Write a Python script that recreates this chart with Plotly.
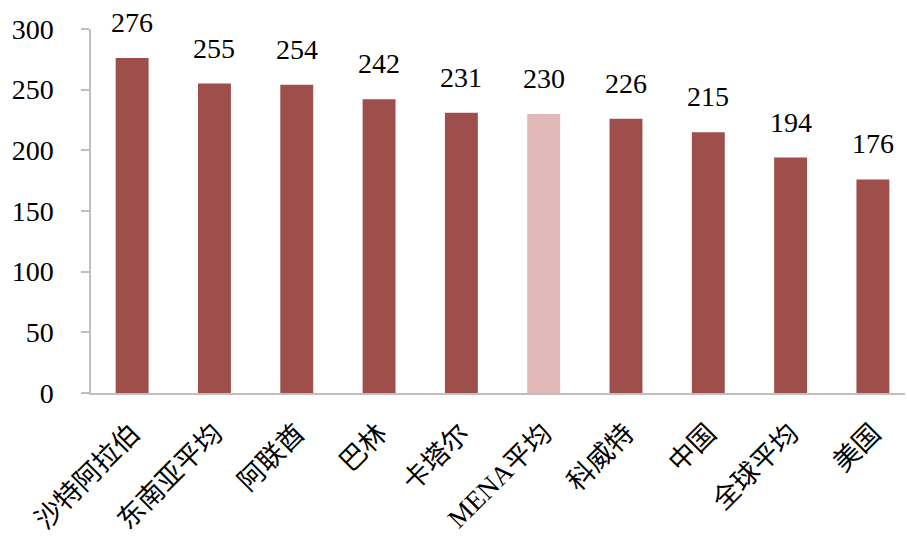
import plotly.graph_objects as go

categories = ["沙特阿拉伯", "东南亚平均", "阿联酋", "巴林", "卡塔尔",
              "MENA平均", "科威特", "中国", "全球平均", "美国"]
values = [276, 255, 254, 242, 231, 230, 226, 215, 194, 176]
highlight = "MENA平均"

y_ticks = [0, 50, 100, 150, 200, 250, 300]

DARK = "#9E4F4B"
LIGHT = "#E0B9B8"
AXIS = "#BFBFBF"
SERIF = "Liberation Serif, Times New Roman, Noto Sans CJK SC, serif"

colors = [LIGHT if c == highlight else DARK for c in categories]

fig = go.Figure()
fig.add_trace(go.Bar(
    x=categories,
    y=values,
    marker=dict(color=colors, line=dict(width=0)),
    width=0.4,
    hoverinfo="x+y",
))

# value labels above each bar
for c, v in zip(categories, values):
    fig.add_annotation(
        x=c, y=v, text=str(v), showarrow=False,
        xanchor="center", yanchor="bottom", yshift=18,
        font=dict(family=SERIF, size=28, color="black"),
    )

fig.update_layout(
    width=907, height=542,
    margin=dict(l=91, r=2, t=29, b=149, autoexpand=False),
    paper_bgcolor="white", plot_bgcolor="white",
    showlegend=False,
    font=dict(family=SERIF, color="black"),
)

fig.update_xaxes(
    range=[-0.5, 9.39],
    automargin=False,
    showline=True, linecolor=AXIS, linewidth=1.5,
    showgrid=False, ticks="",
    tickangle=-45,
    ticklabelstandoff=12,
    tickfont=dict(family=SERIF, size=27, color="black"),
)

fig.update_yaxes(
    range=[0, 300],
    automargin=False,
    tickvals=y_ticks,
    showline=True, linecolor=AXIS, linewidth=1.5,
    showgrid=False, zeroline=False,
    ticks="outside", ticklen=8, tickcolor=AXIS, tickwidth=1.5,
    ticklabelstandoff=22,
    tickfont=dict(family=SERIF, size=28, color="black"),
)

fig.write_html("out.html")
